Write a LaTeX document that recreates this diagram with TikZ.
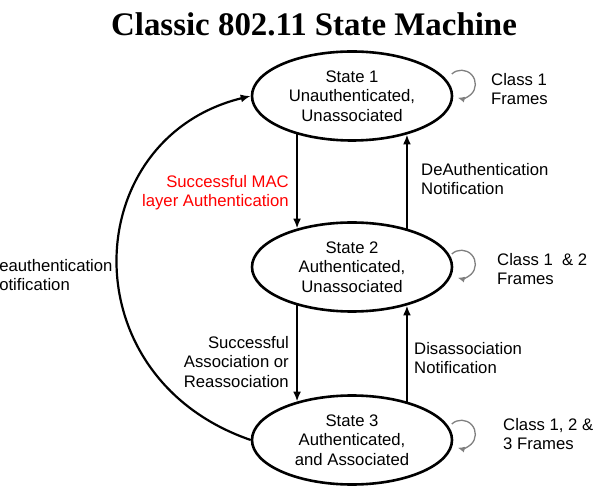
\documentclass[tikz,border=0pt]{standalone}
\usepackage{fontspec}
\setmainfont{Liberation Sans}
\newfontfamily\titlefont{Liberation Serif}
\usetikzlibrary{shapes.geometric,arrows.meta}

\begin{document}
\begin{tikzpicture}[x=1pt,y=1pt,
    state/.style={draw,ellipse,line width=2.6pt,minimum width=200pt,minimum height=89pt,
      inner sep=0pt,align=center,font=\fontsize{16.7}{19.5}\selectfont},
    trans/.style={-{Latex[length=10pt,width=8pt]},line width=2.2pt},
    selfloop/.style={-{Latex[length=7pt,width=6pt]},black!50,line width=1.3pt},
    lbl/.style={inner sep=0pt,font=\fontsize{16.7}{19.5}\selectfont}]
    \useasboundingbox (0,0) rectangle (601,487);
    \node[anchor=base,font=\titlefont\bfseries\fontsize{32.9}{36}\selectfont] (title) at (314,451) {Classic 802.11 State Machine};
    \node[state] (s1) at (352,391) {State 1\\Unauthenticated,\\Unassociated};
    \node[state] (s2) at (352,220) {State 2\\Authenticated,\\Unassociated};
    \node[state] (s3) at (352,47) {State 3\\Authenticated,\\and Associated};
    \draw[trans] (s1.215) -- (s2.145);
    \draw[trans] (s2.35) -- (s1.-35);
    \draw[trans] (s2.215) -- (s3.145);
    \draw[trans] (s3.35) -- (s2.-35);
    \draw[trans] (s3.west) .. controls +(-183,63) and +(-172,-42) .. (s1.west);
    \draw[selfloop] ([shift={(-1.5,22)}]s1.east) arc[start angle=133,end angle=-105,radius=14];
    \draw[selfloop] ([shift={(-1.5,13)}]s2.east) arc[start angle=133,end angle=-105,radius=14];
    \draw[selfloop] ([shift={(-1.5,16)}]s3.east) arc[start angle=133,end angle=-105,radius=14];
    \node[lbl,anchor=north west,align=left] (f1) at (491,414) {Class 1\\Frames};
    \node[lbl,anchor=north west,align=left] (f2) at (497,234) {Class 1\ \ \& 2\\Frames};
    \node[lbl,anchor=north west,align=left] (f3) at (503,69) {Class 1, 2 \&\\3 Frames};
    \node[lbl,anchor=north west,align=left] (deauth) at (421,324) {DeAuthentication\\Notification};
    \node[lbl,anchor=north west,align=left] (disassoc) at (414,145) {Disassociation\\Notification};
    \node[lbl,anchor=north east,align=right,red] (macauth) at (289,312) {Successful MAC\\layer Authentication};
    \node[lbl,anchor=north east,align=right] (assoc) at (289,151) {Successful\\Association or\\Reassociation};
    \node[lbl,anchor=north west,align=left] (deauth3) at (-13,228) {Deauthentication\\Notification};
  \end{tikzpicture}
\end{document}
